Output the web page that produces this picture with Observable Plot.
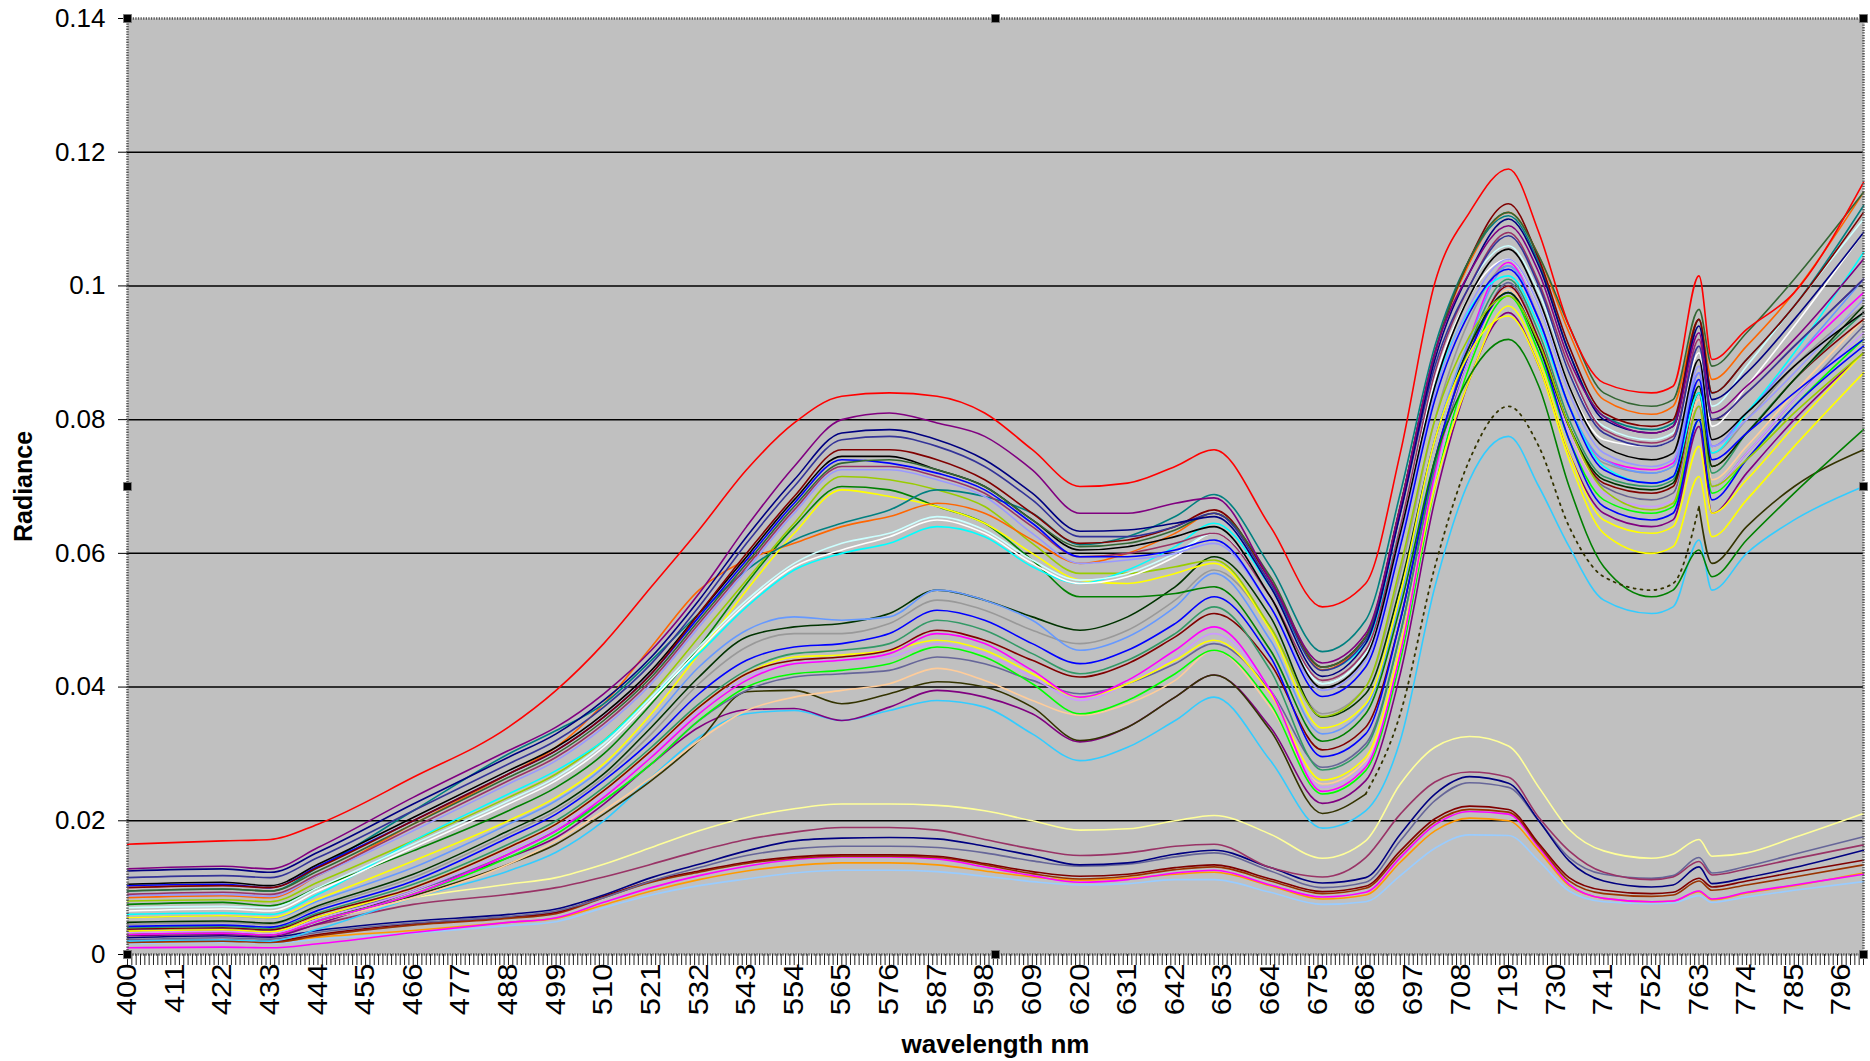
<!DOCTYPE html>
<html>
<head>
<meta charset="utf-8">
<script src="https://cdn.jsdelivr.net/npm/d3@7"></script>
<script src="https://cdn.jsdelivr.net/npm/@observablehq/plot@0.6"></script>
<style>
  html, body { margin: 0; padding: 0; background: #fff; }
  #chart svg { display: block; }
</style>
</head>
<body>
<div id="chart"></div>
<script>
// Sampled wavelengths (nm) shared by every spectrum
const wavelengths = [400, 422, 433, 444, 466, 488, 499, 510, 521, 532,
  543, 554, 565, 576, 587, 598, 609, 620, 631, 642,
  651, 664, 676, 686, 694, 702, 710, 719, 726, 733,
  741, 752, 757, 763, 766, 774, 785, 801];

// Radiance spectra, in thousandths of a radiance unit
// -- bright canopy spectra
const red = [16.5,17.0,17.2,19.5,26.5,34.0,39.5,46.5,55.0,63.5, 72.5,79.5,83.5,84.0,83.5,81.0,75.5,70.0,70.5,73.0, 75.5,64.0,52.0,55.5,75.0,100.5,111.0,117.5,108.0,94.0, 85.5,84.0,85.0,101.5,89.0,93.5,99.0,115.5];
const purple = [12.8,13.2,12.8,16.0,23.5,30.5,34.0,39.0,45.5,54.0, 64.0,73.0,80.0,81.0,79.5,77.5,72.5,66.0,66.0,67.5, 68.3,56.0,43.6,48.0,67.0,90.0,102.0,109.0,102.0,89.0, 80.5,78.0,79.0,93.0,81.0,85.0,92.0,104.0];
const navy = [12.5,12.8,12.3,15.3,22.5,29.5,33.0,38.0,44.5,53.0, 62.5,71.0,78.0,78.5,77.0,74.0,69.0,63.3,63.5,64.5, 65.5,55.0,41.6,46.5,66.0,89.0,102.0,110.0,103.0,90.0, 80.0,78.0,79.0,94.0,83.0,87.0,95.0,108.0];
const slateBlue = [11.5,11.8,11.5,14.5,21.5,28.5,32.0,37.0,43.5,52.0, 61.5,70.0,77.0,77.5,76.0,73.0,68.0,62.5,62.5,64.0, 66.0,55.5,42.5,47.0,66.0,88.0,100.0,107.5,100.0,87.0, 78.0,76.0,77.0,91.0,80.0,84.0,91.0,101.0];
const black = [10.5,10.8,10.3,13.5,20.5,27.5,31.0,36.0,42.5,51.0, 59.5,68.0,74.5,74.5,72.5,70.0,65.0,60.5,61.0,62.5, 64.0,53.5,39.9,44.5,63.0,85.0,98.5,105.5,98.0,85.0, 76.0,74.0,75.0,89.0,77.0,81.0,88.0,96.0];
const blue = [10.3,10.5,10.0,13.2,20.0,27.0,30.5,35.5,42.0,50.5, 59.0,67.5,74.0,73.5,72.0,69.5,64.5,59.5,59.5,60.5, 62.0,52.0,38.6,43.0,61.0,83.0,96.0,102.5,95.0,82.0, 72.5,70.5,71.5,86.0,74.0,78.0,84.0,92.0];
const plum = [9.0,9.3,9.0,12.0,19.0,26.0,29.5,34.5,41.0,49.5, 58.0,66.5,73.0,73.0,71.5,69.0,64.0,59.5,60.0,61.5, 63.0,53.5,41.0,45.5,64.0,87.0,100.0,108.0,100.5,88.0, 78.5,76.5,77.5,92.0,80.0,84.0,91.0,101.0];
const periwinkle = [8.8,9.0,8.7,11.8,18.5,25.5,29.0,34.0,40.5,49.0, 57.5,66.0,72.5,72.5,71.0,68.5,63.0,58.5,59.0,60.0, 61.5,52.0,39.5,44.0,62.0,84.0,97.0,104.0,97.0,84.0, 75.0,73.0,74.0,88.0,76.0,80.0,87.0,98.0];
const yellowGreen = [8.0,8.2,7.9,10.8,17.0,23.5,27.0,32.0,39.0,47.5, 56.0,64.5,71.5,71.0,69.5,67.0,61.5,57.0,57.0,58.0, 59.0,49.0,35.6,40.0,58.0,80.0,92.5,98.5,91.5,79.0, 69.5,66.5,67.5,82.0,70.0,74.0,81.0,90.0];
const green = [7.5,7.8,7.3,10.0,15.5,21.5,25.0,30.0,37.5,46.0, 55.5,64.0,70.0,69.5,67.0,64.5,59.0,53.5,53.5,54.0, 55.0,45.5,31.9,36.0,52.0,74.0,86.5,92.0,85.0,70.0, 58.0,53.5,54.5,60.5,56.5,62.0,69.0,78.5];
const yellow = [5.5,5.8,5.5,8.3,14.0,20.0,23.5,28.5,36.0,45.0, 54.5,63.0,69.5,68.5,67.0,64.5,60.0,56.0,55.5,57.0, 58.5,48.5,33.9,37.5,54.0,77.0,90.0,95.5,88.0,74.0, 63.0,60.0,61.0,71.5,62.5,68.0,76.0,87.0];
const teal = [9.5,9.8,9.5,13.0,21.5,30.0,33.5,37.5,44.0,51.0, 57.5,62.0,64.5,66.5,69.5,68.5,66.0,61.3,62.5,65.5, 68.8,58.0,45.3,50.0,69.0,91.0,104.0,110.5,103.5,90.0, 80.5,78.5,79.5,95.0,84.0,89.0,97.0,112.0];
const orange = [8.5,8.8,8.5,11.8,19.5,27.0,31.0,37.5,46.0,54.5, 59.0,61.5,64.0,65.5,67.5,66.0,62.0,58.5,60.0,63.0, 66.0,56.0,42.6,47.5,67.0,90.0,103.5,111.0,104.5,93.0, 83.0,80.8,82.0,95.0,86.0,91.0,99.0,114.0];
const white = [6.5,6.8,6.5,9.5,16.0,22.5,26.0,31.0,38.0,45.5, 52.5,58.0,60.5,62.5,65.0,63.0,58.5,55.5,56.5,59.5, 63.0,53.5,40.5,45.0,63.5,86.0,98.5,104.0,97.0,85.0, 77.0,76.0,77.0,90.0,79.0,85.0,94.0,108.0];
const cyan = [6.0,6.2,6.0,9.0,17.0,24.0,27.5,32.0,38.5,45.0, 52.0,57.5,60.0,61.5,64.0,62.5,58.0,55.5,57.5,61.0, 64.5,55.0,42.6,46.5,64.0,85.0,96.5,101.5,94.0,82.0, 73.0,70.5,71.5,84.0,75.0,81.0,90.0,105.0];
const lightCyan = [7.0,7.2,7.0,10.0,16.5,23.0,26.5,31.5,38.5,46.0, 53.0,58.5,61.5,63.0,65.5,63.5,59.0,56.0,57.0,60.0, 63.0,53.5,40.5,45.0,64.0,87.0,100.0,106.0,99.0,87.0, 79.0,77.0,78.0,92.0,82.0,88.0,97.0,110.0];
const forest = [9.5,9.8,9.5,12.5,19.5,26.5,30.0,35.0,41.5,50.0, 58.5,67.0,73.5,74.0,72.5,70.0,65.0,61.0,61.5,63.5, 66.0,56.5,43.0,47.5,67.0,90.0,104.0,111.0,104.5,94.0, 84.0,82.0,83.0,96.5,88.0,93.0,101.0,114.0];
const maroon = [10.0,10.3,10.0,13.0,20.0,27.0,30.5,35.5,42.0,51.0, 60.0,68.5,75.5,75.5,74.0,71.0,66.0,61.5,62.0,64.0, 66.5,56.0,43.0,47.5,67.0,90.0,104.0,112.3,104.0,91.0, 81.0,79.0,80.0,95.0,84.0,89.0,97.0,111.0];

// -- intermediate spectra
const cornflower = [5.5,5.8,5.4,8.0,13.0,19.5,23.0,28.0,35.0,43.0, 48.5,50.5,50.0,50.5,54.5,53.0,50.0,45.5,47.5,52.0, 57.0,47.0,33.0,37.0,53.0,77.0,92.0,103.0,95.0,82.0, 74.0,72.0,73.0,87.0,76.0,81.0,89.0,101.0];
const darkGreen = [4.8,5.0,4.7,7.3,12.0,18.5,22.0,27.0,34.0,41.5, 47.5,49.0,49.5,51.0,54.5,53.0,50.5,48.5,50.5,55.0, 59.5,50.5,35.5,39.0,55.0,77.0,91.0,99.0,91.0,79.0, 71.0,69.5,70.5,85.0,73.0,78.0,86.0,97.0];
const gray = [4.5,4.8,4.5,7.0,11.5,18.0,21.5,26.5,33.0,40.5, 46.0,48.0,48.0,49.5,53.0,51.5,48.5,46.5,48.5,53.0, 57.5,49.0,36.0,40.0,57.0,80.0,95.0,103.0,95.0,82.0, 73.5,72.0,73.0,86.0,75.0,80.0,88.0,97.0];
const midBlue = [4.2,4.4,4.1,6.6,11.0,17.5,21.0,26.0,32.0,39.0, 44.0,46.0,46.5,48.0,51.5,50.0,46.5,43.5,45.5,49.5, 53.5,44.5,29.6,33.0,50.0,74.0,90.0,99.0,91.0,77.0, 67.0,65.0,66.0,80.0,68.0,74.0,82.0,91.0];
const seaGreen = [4.0,4.2,3.9,6.2,10.5,16.5,20.0,25.0,31.0,37.5, 42.5,45.0,45.5,46.5,50.0,48.5,45.0,42.0,44.0,48.0, 52.0,42.5,27.6,31.0,48.0,73.0,91.0,101.0,93.0,80.0, 71.5,70.0,71.0,84.0,72.0,78.0,86.0,96.0];
const midMaroon = [3.8,4.0,3.7,6.0,10.0,16.0,19.5,24.5,30.5,37.0, 42.0,44.0,44.5,45.5,48.5,47.0,44.0,41.5,43.5,47.5, 51.0,43.5,30.6,34.0,50.0,74.0,90.0,100.0,92.0,79.0, 70.5,69.0,70.0,84.0,73.0,78.0,86.0,95.0];
const magenta = [3.0,3.2,2.9,5.0,9.0,15.0,18.5,23.5,29.5,36.0, 41.0,43.5,44.0,45.0,48.0,46.5,42.5,38.5,41.0,45.5, 49.0,39.5,24.4,28.0,45.0,72.0,92.0,103.5,95.0,82.0, 74.0,72.5,73.5,87.0,76.0,81.0,89.0,99.0];
const midYellow = [3.5,3.7,3.4,5.6,10.0,16.0,19.5,24.5,30.5,37.0, 42.0,44.5,44.8,45.5,47.0,45.5,42.0,38.5,40.5,44.0, 47.0,39.0,26.1,29.5,46.0,70.0,86.0,97.0,89.0,75.0, 65.0,63.0,64.0,76.0,66.0,71.0,79.0,90.0];
const lavender = [3.3,3.5,3.2,5.3,9.5,15.5,19.0,24.0,30.0,36.5, 41.5,43.5,44.0,44.5,46.5,45.0,41.5,38.0,40.5,44.5, 48.0,39.5,25.0,28.5,45.0,71.0,89.0,100.0,92.0,78.0, 69.0,67.0,68.0,82.0,70.0,75.0,83.0,93.0];
const lime = [3.0,3.2,2.9,5.0,9.0,14.5,18.0,23.0,28.5,35.0, 40.0,42.0,42.5,43.5,46.0,44.5,40.5,36.0,38.0,42.0, 45.5,37.5,24.0,27.5,44.0,70.0,88.0,98.5,90.0,77.0, 68.0,66.0,67.0,80.0,69.0,74.0,82.0,92.0];
const slate = [3.6,3.8,3.5,5.6,9.5,15.0,18.5,23.0,28.5,35.0, 39.5,41.5,42.0,42.5,44.5,43.5,41.0,39.0,40.5,43.5, 46.5,39.5,28.0,31.5,48.0,73.0,89.0,100.5,92.0,79.0, 70.0,68.0,69.0,82.0,70.0,75.0,83.0,94.0];
const peach = [3.2,3.4,3.1,5.0,8.5,13.5,17.0,21.5,26.5,32.0, 36.5,38.5,39.5,40.5,42.8,41.0,38.0,35.8,37.5,41.0, 45.5,37.0,25.5,29.0,46.0,71.0,88.0,99.5,91.0,78.0, 70.0,68.0,69.0,83.0,71.0,76.0,84.0,95.0];
const olive = [3.5,3.7,3.4,5.3,8.8,13.5,16.5,21.0,26.0,32.0, 39.3,39.5,37.5,39.0,40.8,40.0,37.0,32.0,34.0,38.5, 41.8,33.5,21.1,24.0,36.0,58.0,74.0,82.0,76.0,64.0, 56.5,54.5,55.5,67.0,58.5,64.0,70.0,75.5];
const midPurple = [2.8,3.0,2.7,4.6,9.5,14.5,17.5,22.5,28.5,34.0, 36.6,36.8,35.0,37.0,39.5,38.5,36.0,31.8,34.0,38.5, 41.8,34.0,22.6,26.0,42.0,68.0,86.0,96.0,88.0,75.0, 66.0,64.0,65.0,79.0,66.0,72.0,80.0,90.0];
const skyBlue = [2.0,2.2,2.0,3.8,8.5,12.5,15.3,20.0,26.5,32.5, 36.0,36.5,35.0,36.5,38.0,37.0,33.0,29.0,31.0,35.0, 38.5,29.0,18.9,21.5,32.0,55.0,71.0,77.5,70.0,61.0, 53.0,51.0,52.0,62.0,54.5,60.0,65.0,70.0];

// -- dark spectra
const paleYellow = [4.0,4.2,4.0,5.5,8.5,10.5,11.5,13.5,16.0,18.5, 20.5,21.8,22.5,22.5,22.3,21.5,20.0,18.6,18.8,20.0, 20.8,18.0,14.4,17.0,25.5,31.0,32.6,31.2,25.0,18.7, 15.5,14.4,15.0,17.2,14.7,15.2,17.5,21.1];
const mauve = [3.0,3.2,3.0,4.5,7.5,9.0,10.0,11.6,13.5,15.5, 17.2,18.3,19.0,19.0,18.6,17.2,15.8,14.8,15.2,16.2, 16.5,13.0,11.6,14.5,21.0,25.8,27.3,26.5,20.5,15.5, 12.3,11.2,11.6,13.9,11.9,12.8,14.3,16.4];
const lowNavy = [2.5,2.8,2.6,3.6,5.0,6.0,6.8,8.9,11.5,13.5, 15.5,17.0,17.4,17.5,17.3,16.2,14.8,13.4,13.7,15.0, 15.6,13.0,10.7,11.5,18.0,24.0,26.6,25.6,20.0,14.0, 11.0,10.1,10.4,13.1,10.6,11.5,13.0,15.6];
const lowSlate = [2.2,2.5,2.3,3.3,4.7,5.7,6.5,8.5,11.0,13.0, 14.8,15.8,16.2,16.2,16.0,15.2,14.0,13.2,13.5,14.6, 15.2,12.5,10.0,10.8,17.0,23.0,25.7,25.0,20.0,14.5, 12.0,11.4,11.8,14.5,12.2,13.2,15.0,17.6];
const lowMaroon = [2.0,2.2,2.0,3.0,4.6,5.6,6.3,8.7,11.0,12.5, 13.8,14.6,14.9,14.9,14.7,13.6,12.4,11.7,12.0,13.0, 13.4,11.3,9.4,10.2,15.5,20.3,22.2,21.7,16.6,11.5, 9.6,9.1,9.3,11.4,10.1,11.0,12.3,14.1];
const brown = [1.8,2.0,1.8,2.8,4.4,5.4,6.1,8.5,10.8,12.3, 13.6,14.4,14.7,14.7,14.5,13.4,12.1,11.3,11.7,12.7, 13.1,11.0,9.1,9.9,15.0,19.8,21.7,21.3,16.3,11.0, 9.1,8.7,8.9,11.0,9.6,10.4,11.6,13.4];
const lowMagenta = [1.0,1.1,1.0,1.6,3.3,4.8,5.5,7.8,10.0,11.8, 13.2,14.2,14.6,14.6,14.3,13.1,11.8,10.8,11.2,12.2, 12.6,10.4,8.6,9.3,14.5,19.4,21.4,21.0,16.0,10.5, 8.4,7.9,8.0,9.5,8.3,9.3,10.4,12.0];
const lowOrange = [1.8,2.0,1.9,2.6,3.6,4.8,5.4,7.4,9.5,11.2, 12.5,13.3,13.7,13.7,13.4,12.5,11.6,11.1,11.4,12.0, 12.3,10.3,8.3,8.9,13.8,18.5,20.4,20.0,15.5,10.3, 8.4,7.9,8.0,9.4,8.2,9.2,10.3,12.2];
const lightBlue = [1.6,1.8,1.7,2.3,3.2,4.3,4.9,7.0,8.9,10.3, 11.3,12.2,12.6,12.6,12.4,11.7,10.9,10.4,10.6,11.2, 11.2,9.3,7.5,7.9,11.8,15.9,17.9,17.8,14.0,9.5, 7.9,7.6,7.7,8.8,7.8,8.6,9.6,10.9];

// Series in drawing order: values, line colour, and the wavelength span drawn dotted (if any)
const spectra = [
  [lightBlue, "#99CCFF"], [lowOrange, "#FF9900"], [lowMagenta, "#FF00FF"], [brown, "#993300"],
  [lowMaroon, "#800000"], [lowSlate, "#666699"], [lowNavy, "#000080"], [mauve, "#993366"],
  [paleYellow, "#FFFF99"],
  [skyBlue, "#33CCFF"], [midPurple, "#800080"], [olive, "#333300", [686, 763]], [peach, "#FFCC99"],
  [slate, "#666699"], [lime, "#00FF00"], [lavender, "#CC99FF"], [midYellow, "#FFFF00"],
  [magenta, "#FF00FF"], [midMaroon, "#800000"], [seaGreen, "#339966"], [midBlue, "#0000FF"],
  [gray, "#999999"], [darkGreen, "#003300"], [cornflower, "#6699FF"],
  [green, "#008000"], [yellow, "#FFFF00"], [yellowGreen, "#99CC00"], [cyan, "#00FFFF"],
  [white, "#FFFFFF"], [lightCyan, "#CCFFFF"], [orange, "#FF6600"], [teal, "#008080"],
  [periwinkle, "#9999FF"], [plum, "#993366"], [blue, "#0000FF"], [black, "#000000"],
  [maroon, "#800000"], [forest, "#336633"], [slateBlue, "#333399"], [navy, "#000080"],
  [purple, "#800080"], [red, "#FF0000"]
];

// one row per (series, wavelength); segment 0 = solid, 1 = dotted span
const rows = spectra.flatMap(([values, color, dotted], id) =>
  values.flatMap((v, j) => {
    const wl = wavelengths[j];
    const base = {color, wavelength: wl, radiance: v / 1000};
    if (!dotted) return [{...base, key: `${id}`, dotted: false}];
    const out = [];
    if (wl <= dotted[0]) out.push({...base, key: `${id}a`, dotted: false});
    if (wl >= dotted[0] && wl <= dotted[1]) out.push({...base, key: `${id}b`, dotted: true});
    if (wl >= dotted[1]) out.push({...base, key: `${id}c`, dotted: false});
    return out;
  })
);
const solidRows = rows.filter(d => !d.dotted);
const dottedRows = rows.filter(d => d.dotted);

const xDomain = [400, 801];
const yDomain = [0, 0.14];
const yTicks = [0, 0.02, 0.04, 0.06, 0.08, 0.1, 0.12, 0.14];
const gridValues = [0.02, 0.04, 0.06, 0.08, 0.1, 0.12];
const xLabelTicks = d3.range(400, 797, 11);
const xMinorTicks = d3.range(400, 802, 1);

// selection handles on the plot-area border
const hx = [xDomain[0], (xDomain[0] + xDomain[1]) / 2, xDomain[1]];
const hy = [yDomain[0], (yDomain[0] + yDomain[1]) / 2, yDomain[1]];
const handles = hx.flatMap((x, i) => hy.map((y, j) => ({x, y, keep: !(i === 1 && j === 1)}))).filter(d => d.keep);

const chart = Plot.plot({
  width: 1870,
  height: 1061,
  marginLeft: 127,
  marginRight: 7,
  marginTop: 18,
  marginBottom: 107,
  style: {fontFamily: "'Liberation Sans', Arial, sans-serif", fontSize: "26px", color: "#000", background: "#fff", overflow: "visible"},
  x: {domain: xDomain},
  y: {domain: yDomain},
  color: {type: "identity"},
  marks: [
    Plot.frame({fill: "#C0C0C0"}),
    Plot.ruleY(gridValues, {stroke: "#000", strokeWidth: 1.5}),
    Plot.line(solidRows, {x: "wavelength", y: "radiance", z: "key", stroke: "color", strokeWidth: 1.6, curve: "monotone-x"}),
    Plot.line(dottedRows, {x: "wavelength", y: "radiance", z: "key", stroke: "color", strokeWidth: 1.8, strokeDasharray: "2,5", curve: "monotone-x"}),
    Plot.frame({stroke: "#555", strokeWidth: 2.5, strokeDasharray: "1.3,1.3"}),
    Plot.axisY({ticks: yTicks, tickSize: 9, tickPadding: 13, tickFormat: d3.format("~g"), fontSize: 26, label: null, stroke: "#000"}),
    Plot.axisX({ticks: xMinorTicks, tickSize: 11, tickFormat: () => "", label: null, stroke: "#222", strokeWidth: 1}),
    Plot.axisX({ticks: xLabelTicks, tickSize: 0, tickPadding: 9, rotate: -90, textAnchor: "end", lineAnchor: "middle", fontSize: 27, label: null}),
    Plot.dot(handles, {x: "x", y: "y", symbol: "square", r: 4.5, fill: "#000", stroke: "#777", strokeWidth: 1}),
    Plot.text(["Radiance"], {text: d => d, frameAnchor: "left", dx: -104, rotate: -90, textAnchor: "middle", lineAnchor: "middle", fontWeight: "bold", fontSize: 25}),
    Plot.text(["wavelength nm"], {text: d => d, frameAnchor: "bottom", dy: 90, textAnchor: "middle", lineAnchor: "middle", fontWeight: "bold", fontSize: 26})
  ]
});

// tick labels of the wavelength axis are drawn slightly elongated
d3.select(chart).selectAll('g[aria-label="x-axis tick label"] text').each(function () {
  const t = this.getAttribute("transform") || "";
  this.setAttribute("transform", t + " scale(1.15,1)");
});

document.getElementById("chart").appendChild(chart);
</script>
</body>
</html>
